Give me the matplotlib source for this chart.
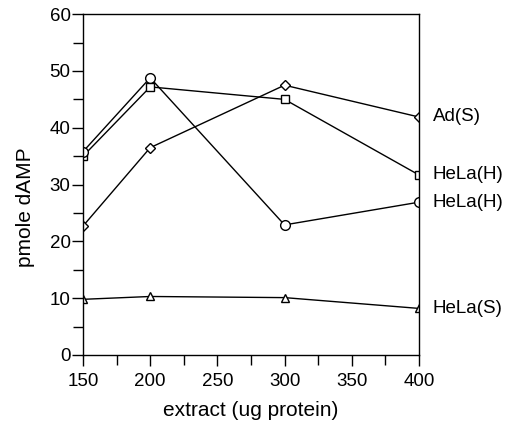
import numpy as np
import matplotlib.pyplot as plt
from matplotlib.ticker import MultipleLocator

plt.rcParams['font.family'] = ['Liberation Sans', 'DejaVu Sans']

#Data
extract = [150, 200, 300, 400]
ad_s = [22.7, 36.5, 47.5, 41.9]
hela_h_sq = [35.0, 47.2, 45.0, 31.7]
hela_h_circ = [35.8, 48.8, 22.9, 26.9]
hela_s = [9.8, 10.3, 10.1, 8.2]
series_labels = ['Ad(S)', 'HeLa(H)', 'HeLa(H)', 'HeLa(S)']

fig = plt.figure(figsize=(5.14, 4.26), dpi=100)
ax = fig.add_axes([0.1615, 0.1667, 0.6535, 0.8])

style = dict(color='black', lw=1.0, markerfacecolor='white', markeredgecolor='black', markeredgewidth=1.0)
ax.plot(extract, ad_s, marker='D', ms=5.5, **style)
ax.plot(extract, hela_h_sq, marker='s', ms=5.5, **style)
ax.plot(extract, hela_h_circ, marker='o', ms=7, **style)
ax.plot(extract, hela_s, marker='^', ms=6, **style)

#Series labels at right of the last points
for yv, lab in zip([ad_s[-1], hela_h_sq[-1], hela_h_circ[-1], hela_s[-1]], series_labels):
    ax.annotate(lab, xy=(400, yv), xytext=(10, 0), textcoords='offset points',
                va='center', ha='left', fontsize=13.5, annotation_clip=False)

ax.set_xlim(150, 400)
ax.set_ylim(0, 60)
ax.set_xticks([150, 200, 250, 300, 350, 400])
ax.set_yticks([0, 10, 20, 30, 40, 50, 60])
ax.xaxis.set_minor_locator(MultipleLocator(25))
ax.yaxis.set_minor_locator(MultipleLocator(5))
ax.tick_params(which='both', direction='out', labelsize=13.5, width=1.0)
ax.tick_params(which='major', length=8)
ax.tick_params(which='minor', length=7)
ax.tick_params(axis='x', pad=5)
ax.tick_params(axis='y', pad=1)
for sp in ax.spines.values():
    sp.set_linewidth(1.0)

ax.set_xlabel("extract (ug protein)", fontsize=15)
ax.set_ylabel("pmole dAMP", fontsize=15)
ax.xaxis.set_label_coords(0.5, -0.135)
ax.yaxis.set_label_coords(-0.143, 0.434)

fig.savefig('out.png', dpi=100)
